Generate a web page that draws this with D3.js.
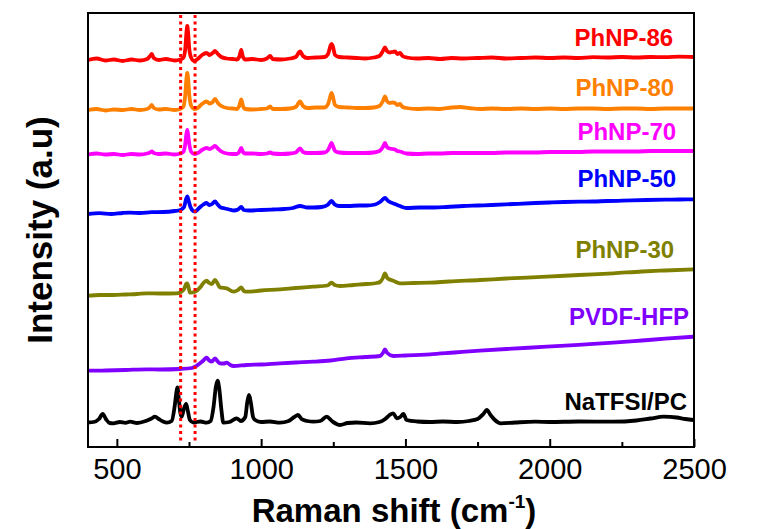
<!DOCTYPE html>
<html>
<head>
<meta charset="utf-8">
<script src="https://cdn.jsdelivr.net/npm/d3@7"></script>
<style>
  body { margin: 0; background: #fff; }
  svg { display: block; font-family: Arial, "Liberation Sans", sans-serif; }
</style>
</head>
<body>
<div id="chart"></div>
<script>
// Raman spectra, [wavenumber (cm-1), intensity (a.u., offset)]
const phnp86 = [[400,387],[430,388.5],[460,386.5],[490,387.5],[520,386],[550,387.5],[580,386.5],[605,388],[615,391],[621,393],[628,389],[645,387],[670,388],[700,386.5],[720,387.5],[730,389],[737,398],[741,414],[744,421],[747,414],[751,398],[758,389],[768,386],[780,388],[795,392],[811,394],[822,392],[832,394],[840,396],[850,393],[862,390],[881,388.5],[900,388],[915,387.5],[924,390],[931,397],[937,390],[945,387.5],[970,388],[1000,387],[1020,388.5],[1031,391],[1040,388],[1070,387.5],[1100,388.5],[1120,390],[1135,395.5],[1145,391],[1160,389],[1190,389.5],[1220,390],[1232,393],[1240,401],[1244,403],[1249,400],[1256,392],[1270,390],[1300,389.5],[1330,389],[1360,388.5],[1390,389.5],[1410,391],[1422,396],[1429,399.5],[1436,396],[1445,394.5],[1455,395],[1464,395.5],[1472,393],[1481,394],[1490,391],[1504,389.5],[1540,388.5],[1580,389],[1620,388],[1660,389],[1700,388.5],[1750,389],[1800,389.5],[1850,388.5],[1900,389],[1950,389.5],[2000,389],[2050,389.5],[2100,389],[2150,389.8],[2200,389.5],[2250,390],[2300,389.5],[2350,390],[2400,389.8],[2450,390.3],[2500,390]];

const phnp80 = [[400,337],[430,338],[460,336.5],[490,337.5],[520,337],[550,338],[580,337],[605,338],[615,340],[621,342],[628,339],[645,337.5],[670,338],[700,337],[720,338],[730,340],[737,352],[741,368],[744,374],[747,368],[751,352],[758,341],[768,338],[780,339],[795,343],[811,345.5],[822,343.5],[832,345],[840,348],[850,344],[862,341],[881,339],[900,338.5],[915,338],[924,341],[931,347.5],[937,341],[945,338],[970,337.5],[1000,338],[1020,338.5],[1031,340.5],[1040,338],[1070,338],[1100,338.5],[1120,340],[1135,345.5],[1145,341],[1160,339],[1190,339.5],[1220,339.5],[1232,343],[1240,351],[1244,354],[1249,350],[1256,342],[1270,340],[1300,339.5],[1330,339],[1360,339],[1390,339.5],[1410,341],[1422,346],[1429,350.5],[1436,346],[1445,344],[1455,344.5],[1464,344],[1472,342],[1481,343],[1490,340],[1504,339],[1540,338],[1580,338.5],[1620,338],[1660,339.5],[1690,340],[1720,339],[1760,338],[1800,338.5],[1850,338],[1900,338.5],[1950,338],[2000,338.5],[2050,338],[2100,338.5],[2150,338.5],[2200,338],[2250,338.5],[2300,338.5],[2350,338],[2400,338.5],[2450,338.5],[2500,338.5]];

const phnp70 = [[400,292.5],[430,293.5],[460,292.5],[490,293],[520,292],[550,293],[580,292.5],[605,293.5],[615,294.5],[621,295.5],[628,294],[645,293],[670,293.5],[700,292.5],[720,293.5],[730,295],[737,303],[741,313],[744,317],[747,312],[751,303],[758,295],[768,293],[780,294],[795,297],[811,299],[822,298],[832,299.5],[840,301],[850,298.5],[862,295.5],[881,293.5],[900,293],[915,293],[924,295],[931,299],[937,295],[945,293.5],[970,293.5],[1000,293],[1020,293.5],[1031,294.5],[1040,293.5],[1070,293],[1100,293.5],[1120,294.5],[1135,298.5],[1145,295],[1160,294],[1190,294],[1220,294.5],[1232,297],[1240,302],[1244,304],[1249,301],[1256,296],[1270,294.5],[1300,294],[1330,294],[1360,294],[1390,294.5],[1410,296],[1422,300],[1429,304],[1436,300],[1445,298.5],[1455,298],[1464,297.5],[1472,296],[1481,295.5],[1504,293.5],[1540,293],[1580,293.5],[1620,293.5],[1660,294],[1700,294],[1750,294],[1800,294],[1850,294.5],[1900,294.5],[1950,294.5],[2000,295],[2050,295],[2100,295],[2150,295.5],[2200,295.5],[2250,295.5],[2300,295.5],[2350,296],[2400,296],[2450,296],[2500,296]];

const phnp50 = [[400,233],[440,233.8],[480,233],[520,234],[546,234.3],[580,234],[620,234.8],[660,235],[700,236],[720,237],[733,240],[740,248],[744,250.5],[749,246],[755,240],[765,236],[771,235.5],[785,239],[800,242.5],[811,244],[820,242],[830,243],[840,245.5],[848,243],[860,239.5],[875,238.5],[890,237.5],[905,236.5],[920,237.5],[931,240],[940,237],[958,236.5],[1000,237],[1040,237.5],[1080,238],[1110,239],[1135,241],[1160,239.5],[1181,239.5],[1210,240],[1230,242],[1244,246],[1255,242.5],[1270,241],[1300,241],[1340,241.5],[1366,241.5],[1395,242.5],[1412,245],[1429,249],[1440,246],[1464,243],[1481,241],[1504,239],[1550,239.5],[1600,239.5],[1643,240],[1700,241],[1750,241.5],[1800,242],[1874,243],[1950,244],[2000,244.5],[2050,245],[2105,245.3],[2150,245.5],[2200,246],[2250,246.3],[2336,247],[2400,247.3],[2450,247.5],[2500,247.7]];

const phnp30 = [[400,151.3],[440,152],[488,152],[530,152.5],[570,153],[603,153.7],[650,153.5],[707,153.7],[719,154.5],[733,158],[740,163],[744,163.7],[749,159],[753,154.3],[771,155.3],[790,160],[800,164],[811,166.3],[820,164],[829,163],[840,167],[848,164],[857,159.7],[881,158.7],[904,155.3],[920,157],[931,159.7],[940,156],[950,155.3],[1000,156.5],[1065,157.7],[1120,159],[1181,160.3],[1230,161.5],[1244,164.3],[1255,162],[1273,161],[1320,162],[1366,163],[1400,164],[1412,165],[1422,169],[1429,173.7],[1437,169],[1458,166.3],[1481,163.7],[1530,164],[1585,164.3],[1650,165.5],[1758,167],[1850,168.5],[1990,170.3],[2100,172],[2220,173.7],[2320,175.5],[2400,176.5],[2500,177.7]];

const pvdfHfp = [[400,76.3],[460,76.5],[530,77],[603,77.7],[650,77.5],[719,78],[760,79],[771,80.3],[788,83.7],[800,86.5],[811,89.3],[820,86.5],[829,85.3],[840,88.7],[848,86],[857,83.7],[870,83.5],[881,84.3],[893,82],[904,81],[950,82],[1000,82.5],[1065,83.7],[1120,84.5],[1181,85.3],[1240,86.5],[1296,88.7],[1360,90],[1412,91],[1422,94],[1429,97.7],[1437,94],[1458,91],[1500,91.5],[1585,92.7],[1670,94.5],[1758,96.3],[1850,98],[1990,100.3],[2100,102.2],[2220,104.3],[2320,106.5],[2400,108.3],[2500,110.3]];

const natfsi = [[400,24.5],[420,25],[438,28],[451,33],[462,28],[475,24],[488,23.7],[510,25],[530,24.2],[546,25.3],[570,24],[600,26],[620,28.5],[632,30.3],[645,28],[660,25.5],[673,24.3],[690,26],[700,40],[707,56],[710,59.7],[714,50],[720,34],[725,30.3],[732,38],[740,43],[746,36],[753,27],[765,24.5],[790,25.5],[811,24.3],[825,26],[835,40],[843,60],[849,66.3],[855,58],[862,38],[869,24.3],[890,25],[915,28.7],[930,26],[945,30],[952,45],[958,52],[964,45],[972,30],[979,27],[1000,25],[1030,25.5],[1065,24.3],[1095,26],[1115,30],[1128,32],[1140,28],[1160,26],[1181,25.3],[1205,26],[1227,30.3],[1245,26],[1273,22],[1300,24],[1330,24.5],[1377,23.7],[1410,25],[1430,28],[1445,32],[1458,33.7],[1470,28.7],[1482,30],[1493,33],[1504,27],[1540,25.5],[1585,25],[1630,25.5],[1680,25],[1720,26],[1750,28],[1770,33],[1782,37],[1795,32],[1810,27],[1830,23.7],[1880,24.5],[1950,25.3],[2000,25],[2100,25.5],[2220,25.3],[2300,26.5],[2350,28.5],[2394,30.3],[2440,29.5],[2470,28],[2500,27]];

const names = ["PhNP-86", "PhNP-80", "PhNP-70", "PhNP-50", "PhNP-30", "PVDF-HFP", "NaTFSI/PC"];
const spectra = [phnp86, phnp80, phnp70, phnp50, phnp30, pvdfHfp, natfsi];
const colors = ["#ff0000", "#ff8000", "#ff00ff", "#0000ff", "#808000", "#8000ff", "#000000"];
const majorTicks = [500, 1000, 1500, 2000, 2500];
const minorTicks = [750, 1250, 1750, 2250];
const markLines = [721, 771];

// label anchor (right end) in data coords
const labelAt = [[2428, 401], [2431, 351], [2438, 307], [2438, 260], [2431, 189], [2483, 122], [2476, 37]];

const width = 757, height = 529;
const margin = ({top: 13, right: 63, bottom: 82, left: 88});

const x = d3.scaleLinear([400, 2500], [margin.left, width - margin.right]);
const y = d3.scaleLinear([0, 434], [height - margin.bottom, margin.top]);

const svg = d3.select("#chart").append("svg")
    .attr("width", width)
    .attr("height", height)
    .attr("viewBox", [0, 0, width, height]);

svg.append("rect").attr("width", width).attr("height", height).attr("fill", "#fff");

const line = d3.line()
    .x(d => x(d[0]))
    .y(d => y(d[1]))
    .curve(d3.curveMonotoneX);

svg.append("g")
    .attr("fill", "none")
    .attr("stroke-width", 3.8)
    .attr("stroke-linejoin", "round")
    .selectAll("path")
    .data(spectra)
    .join("path")
      .attr("stroke", (d, i) => colors[i])
      .attr("d", line);

// dotted markers
svg.append("g")
    .selectAll("line")
    .data(markLines)
    .join("line")
      .attr("x1", d => x(d))
      .attr("x2", d => x(d))
      .attr("y1", margin.top + 2)
      .attr("y2", height - margin.bottom - 4)
      .attr("stroke", "#ff0000")
      .attr("stroke-width", 3)
      .attr("stroke-dasharray", "3,3.5");

// x axis
svg.append("g")
    .attr("transform", `translate(0,${height - margin.bottom})`)
    .call(d3.axisBottom(x).tickValues(majorTicks).tickFormat(d3.format("d"))
        .tickSizeInner(-8).tickSizeOuter(0).tickPadding(11))
    .call(g => g.select(".domain").remove())
    .call(g => g.selectAll(".tick line").attr("stroke", "#000").attr("stroke-width", 2))
    .call(g => g.selectAll(".tick text").attr("font-size", 29).attr("fill", "#000")
        .attr("font-family", "Arial, 'Liberation Sans', sans-serif"));

svg.append("g")
    .attr("transform", `translate(0,${height - margin.bottom})`)
    .call(d3.axisBottom(x).tickValues(minorTicks).tickSizeInner(-5).tickSizeOuter(0).tickFormat(""))
    .call(g => g.select(".domain").remove())
    .call(g => g.selectAll(".tick line").attr("stroke", "#000").attr("stroke-width", 2));

// frame
svg.append("rect")
    .attr("x", margin.left)
    .attr("y", margin.top)
    .attr("width", width - margin.left - margin.right)
    .attr("height", height - margin.top - margin.bottom)
    .attr("fill", "none")
    .attr("stroke", "#000")
    .attr("stroke-width", 2);

// series labels
svg.append("g")
    .attr("font-size", 24)
    .attr("font-weight", "bold")
    .attr("text-anchor", "end")
    .selectAll("text")
    .data(names)
    .join("text")
      .attr("x", (d, i) => x(labelAt[i][0]))
      .attr("y", (d, i) => y(labelAt[i][1]))
      .attr("fill", (d, i) => colors[i])
      .text(d => d);

// axis titles
const xt = svg.append("text")
    .attr("x", 394)
    .attr("y", 522)
    .attr("text-anchor", "middle")
    .attr("font-size", 33)
    .attr("font-weight", "bold");
xt.append("tspan").text("Raman shift (cm");
xt.append("tspan").attr("font-size", 19).attr("dy", -14).text("-1");
xt.append("tspan").attr("dy", 14).text(")");

svg.append("text")
    .attr("transform", "translate(52,230) rotate(-90)")
    .attr("text-anchor", "middle")
    .attr("font-size", 35)
    .attr("font-weight", "bold")
    .text("Intensity (a.u)");
</script>
</body>
</html>
